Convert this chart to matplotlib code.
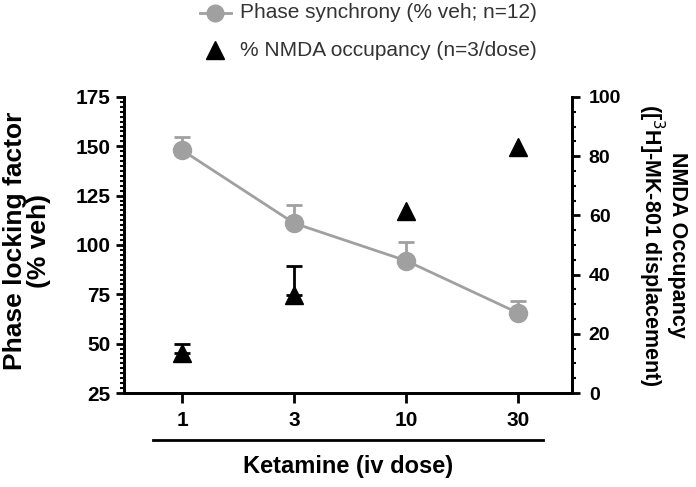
import matplotlib
matplotlib.use("Agg")
from matplotlib import pyplot as plt
from matplotlib.ticker import MultipleLocator
from matplotlib.lines import Line2D

plt.rcParams.update({'font.family': ['Liberation Sans', 'DejaVu Sans'], 'font.size': 12})

doses = ["1", "3", "10", "30"]
plf_mean = [148, 111, 92, 65.5]
plf_err = [6.5, 9, 9.5, 6]
occ_mean = [13.5, 33, 61.5, 83]
occ_err = [3, 10, 0, 0]

grey = "#a0a0a0"
x = list(range(len(doses)))

fig = plt.figure(figsize=(6.96, 4.87), dpi=100)
ax = fig.add_axes([0.178, 0.193, 0.644, 0.608])
ax2 = ax.twinx()

# phase locking (left axis), upper error bars only
ax.errorbar(x, plf_mean, yerr=[[0] * 4, plf_err], color=grey, lw=2,
            marker="o", ms=13, capsize=6, capthick=2, elinewidth=2, zorder=3)
ax.set_xlim(-0.52, 3.48)
ax.set_ylim(25, 175)
ax.yaxis.set_major_locator(MultipleLocator(25))
ax.yaxis.set_minor_locator(MultipleLocator(2.5))
ax.set_xticks(x)
ax.set_xticklabels(doses)

# NMDA occupancy (right axis); only doses with visible error bars get caps
ax2.plot(x, occ_mean, lw=0, marker="^", ms=13, color="black", zorder=3)
ex = [i for i in x if occ_err[i] > 0]
ax2.errorbar(ex, [occ_mean[i] for i in ex], yerr=[[0] * len(ex), [occ_err[i] for i in ex]],
             fmt="none", ecolor="black", capsize=6, capthick=2, elinewidth=2, zorder=3)
ax2.set_ylim(0, 100)
ax2.yaxis.set_major_locator(MultipleLocator(20))
ax2.yaxis.set_minor_locator(MultipleLocator(5))

for a in (ax, ax2):
    a.spines["top"].set_visible(False)
    for s in a.spines.values():
        s.set_linewidth(2)
    a.tick_params(which="major", width=2, length=6, labelsize=15)
    a.tick_params(which="minor", width=1.5, length=3)
    for lab in a.get_yticklabels() + a.get_xticklabels():
        lab.set_fontweight("bold")
ax.tick_params(axis="x", length=7, pad=6)
ax2.tick_params(axis="y", labelsize=14, pad=6)

fig.text(27 / 696, 1 - 241 / 487, "Phase locking factor\n(% veh)", rotation=90,
         ha="center", va="center", multialignment="center", fontsize=19,
         fontweight="bold", linespacing=1.0)
fig.text(662 / 696, 1 - 245 / 487, "NMDA Occupancy\n([$^3$H]-MK-801 displacement)",
         rotation=270, ha="center", va="center", multialignment="center",
         fontsize=15.5, fontweight="bold", linespacing=1.05)

# line under dose labels
fig.add_artist(Line2D([153 / 696, 543 / 696], [1 - 440 / 487, 1 - 440 / 487],
                      color="black", lw=2))
fig.text(348 / 696, 1 - 467 / 487, "Ketamine (iv dose)", ha="center", va="center",
         fontsize=17, fontweight="bold")

# legend drawn at top
fig.add_artist(Line2D([200 / 696, 231 / 696], [1 - 13 / 487] * 2, color=grey, lw=2))
fig.add_artist(Line2D([215 / 696], [1 - 13 / 487], color=grey, marker="o", ms=12, lw=0))
fig.text(240 / 696, 1 - 13 / 487, "Phase synchrony (% veh; n=12)", va="center",
         fontsize=15, color="#333333")
fig.add_artist(Line2D([215 / 696], [1 - 50 / 487], color="black", marker="^", ms=13, lw=0))
fig.text(240 / 696, 1 - 50 / 487, "% NMDA occupancy (n=3/dose)", va="center",
         fontsize=15, color="#333333")

fig.savefig("out.png", dpi=100)
